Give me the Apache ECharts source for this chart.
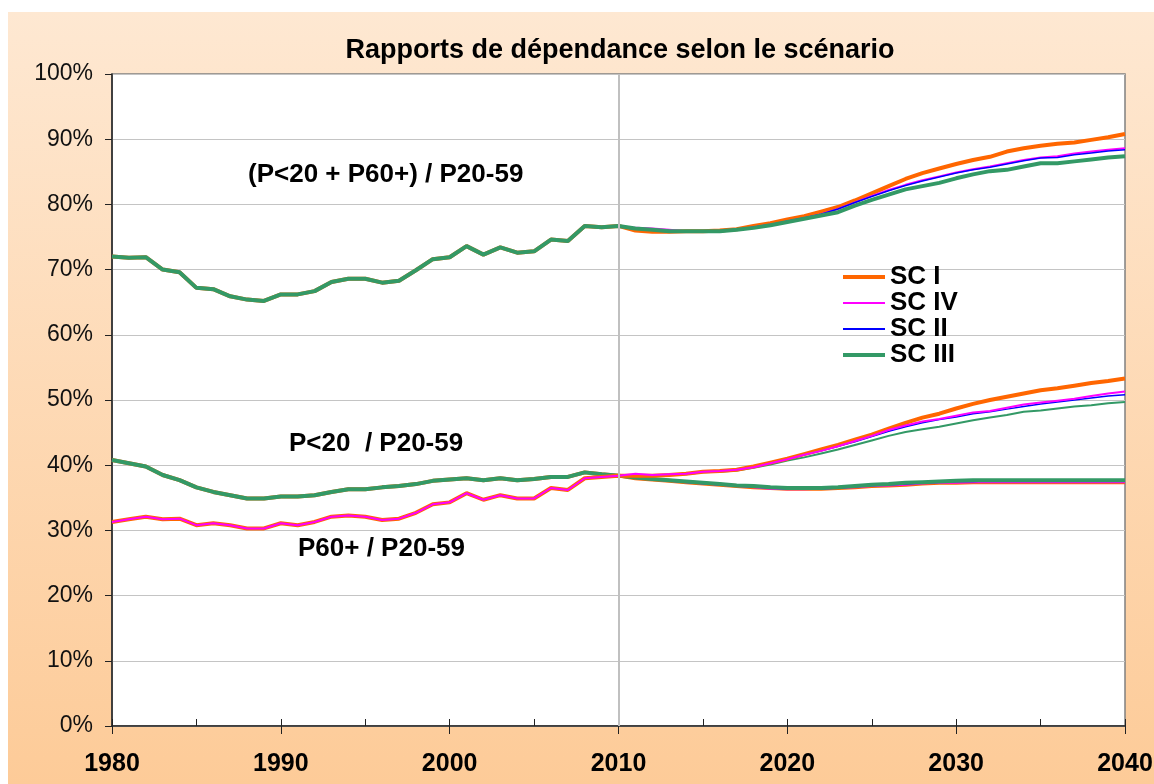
<!DOCTYPE html>
<html><head><meta charset="utf-8">
<script src="https://cdn.jsdelivr.net/npm/echarts@6/dist/echarts.min.js"></script>
<style>html,body{margin:0;padding:0;background:#fff}#c{width:1154px;height:784px}</style>
</head><body><div id="c"></div><script>
const FONT = '"Liberation Sans", Arial, sans-serif';
const firstYear = 1980, lastYear = 2040, projectionStart = 2010;
const scenarioNames = ['SC I', 'SC IV', 'SC II', 'SC III'];
const titleText = 'Rapports de dépendance selon le scénario';
const groupLabels = ['(P<20 + P60+) / P20-59', 'P<20  / P20-59', 'P60+ / P20-59'];

// Historical values 1980..2010 (common to all scenarios)
const histTotal = [72.0,71.8,71.9,70.0,69.6,67.2,67.0,65.9,65.4,65.2,66.2,66.2,66.7,68.1,68.6,68.6,68.0,68.3,69.9,71.6,71.9,73.6,72.3,73.4,72.6,72.8,74.6,74.4,76.7,76.5,76.7];
const histYoung = [40.8,40.3,39.8,38.5,37.7,36.6,35.9,35.4,34.9,34.9,35.2,35.2,35.4,35.9,36.3,36.3,36.6,36.8,37.1,37.6,37.8,38.0,37.7,38.0,37.7,37.9,38.2,38.2,38.9,38.6,38.4];
const histOld   = [31.3,31.7,32.1,31.7,31.8,30.8,31.1,30.8,30.3,30.3,31.1,30.8,31.3,32.1,32.3,32.1,31.6,31.8,32.7,34.0,34.3,35.7,34.7,35.4,34.9,34.9,36.5,36.2,38.0,38.2,38.4];

// Projections 2011..2040
const projTotalI   = [76.0,75.8,75.8,75.9,75.9,76.0,76.2,76.7,77.1,77.7,78.2,78.9,79.6,80.6,81.7,82.8,83.9,84.8,85.5,86.2,86.8,87.3,88.1,88.6,89.0,89.3,89.5,89.9,90.3,90.8];
const projTotalIV  = [76.4,76.3,76.1,75.9,75.9,75.9,76.1,76.5,76.9,77.4,77.9,78.5,79.3,80.3,81.3,82.2,83.0,83.7,84.3,84.9,85.4,85.8,86.3,86.8,87.2,87.4,87.8,88.1,88.4,88.6];
const projTotalII  = [76.2,76.2,76.0,75.9,75.9,75.9,76.1,76.5,76.9,77.4,77.9,78.5,79.3,80.3,81.2,82.1,82.9,83.6,84.2,84.8,85.3,85.7,86.2,86.7,87.1,87.2,87.6,87.9,88.2,88.4];
const projTotalIII = [76.3,76.1,75.9,75.9,75.9,75.9,76.1,76.4,76.8,77.3,77.8,78.3,78.8,79.8,80.7,81.5,82.3,82.8,83.3,84.0,84.6,85.1,85.3,85.8,86.3,86.3,86.6,86.9,87.2,87.4];

const projYoungI   = [38.0,37.8,37.6,37.4,37.2,37.0,36.8,36.6,36.5,36.4,36.4,36.4,36.5,36.6,36.8,36.9,37.0,37.2,37.3,37.3,37.4,37.4,37.4,37.4,37.4,37.4,37.4,37.4,37.4,37.4];
const projYoungIV  = [38.1,37.8,37.6,37.4,37.2,37.0,36.8,36.6,36.4,36.3,36.3,36.4,36.5,36.6,36.8,36.9,37.0,37.2,37.3,37.3,37.4,37.4,37.4,37.4,37.4,37.4,37.4,37.4,37.4,37.4];
const projYoungII  = [38.0,37.8,37.6,37.4,37.2,37.0,36.8,36.7,36.5,36.4,36.4,36.4,36.5,36.7,36.9,37.0,37.1,37.3,37.4,37.5,37.5,37.6,37.6,37.6,37.6,37.6,37.6,37.6,37.6,37.6];
const projYoungIII = [38.1,37.9,37.7,37.5,37.3,37.1,36.9,36.8,36.6,36.5,36.5,36.5,36.6,36.8,37.0,37.1,37.3,37.4,37.5,37.6,37.7,37.7,37.7,37.7,37.7,37.7,37.7,37.7,37.7,37.7];

const projOldI   = [38.4,38.4,38.5,38.7,39.0,39.1,39.3,39.8,40.4,41.0,41.7,42.4,43.1,43.9,44.7,45.6,46.5,47.3,47.9,48.7,49.4,50.0,50.5,51.0,51.5,51.8,52.2,52.6,52.9,53.3];
const projOldIV  = [38.7,38.5,38.6,38.7,39.0,39.1,39.3,39.7,40.3,40.9,41.6,42.2,42.9,43.7,44.5,45.4,46.1,46.7,47.1,47.6,48.1,48.3,48.8,49.3,49.6,49.9,50.2,50.6,51.0,51.3];
const projOldII  = [38.3,38.4,38.6,38.7,39.0,39.1,39.3,39.7,40.3,40.9,41.6,42.2,42.9,43.6,44.4,45.2,45.9,46.5,47.0,47.4,47.9,48.2,48.6,49.0,49.4,49.7,50.0,50.3,50.6,50.8];
const projOldIII = [38.4,38.4,38.5,38.6,38.9,39.0,39.2,39.6,40.1,40.7,41.2,41.8,42.4,43.1,43.8,44.5,45.1,45.5,45.9,46.4,46.9,47.3,47.7,48.2,48.4,48.7,49.0,49.2,49.5,49.7];

const colors = {'SC I': '#FF6600', 'SC IV': '#FF00FF', 'SC II': '#0000FF', 'SC III': '#339966'};
const legendWidths = {'SC I': 4, 'SC IV': 2, 'SC II': 2, 'SC III': 4};

function pairs(hist, proj) {
  const all = hist.concat(proj);
  return all.map((v, i) => [firstYear + i, v]);
}
function mk(name, hist, proj, width) {
  return {
    name: name, type: 'line', data: pairs(hist, proj), symbol: 'none', showSymbol: false,
    lineStyle: {color: colors[name], width: width}, itemStyle: {color: colors[name]},
    silent: true, animation: false, xAxisIndex: 0
  };
}
const series = [
  // total group
  mk('SC I', histTotal, projTotalI, 4),
  mk('SC IV', histTotal, projTotalIV, 2),
  mk('SC II', histTotal, projTotalII, 1.5),
  mk('SC III', histTotal, projTotalIII, 4),
  // P<20 group
  mk('SC I', histYoung, projYoungI, 4),
  mk('SC IV', histYoung, projYoungIV, 2),
  mk('SC II', histYoung, projYoungII, 1.5),
  mk('SC III', histYoung, projYoungIII, 4),
  // P60+ group
  mk('SC III', histOld, projOldIII, 2),
  mk('SC II', histOld, projOldII, 1.5),
  mk('SC I', histOld, projOldI, 4),
  mk('SC IV', histOld, projOldIV, 2)
];
series[0].markLine = {
  silent: true, symbol: 'none', label: {show: false},
  lineStyle: {color: '#C0C0C0', width: 2, type: 'solid'},
  data: [{xAxis: projectionStart}]
};

const chart = echarts.init(document.getElementById('c'), null, {renderer: 'canvas'});
chart.setOption({
  backgroundColor: '#ffffff',
  animation: false,
  textStyle: {fontFamily: FONT},
  title: {
    text: titleText, left: 615, top: 32, textAlign: 'center',
    textStyle: {fontFamily: FONT, fontSize: 27, fontWeight: 'bold', color: '#000'}
  },
  grid: {
    left: 112, top: 74, right: 29, bottom: 58, show: true, containLabel: false,
    outerBoundsMode: 'none',
    backgroundColor: '#ffffff', borderColor: '#808080', borderWidth: 1.5
  },
  legend: {
    data: scenarioNames.map(n => ({name: n, lineStyle: {width: legendWidths[n], color: colors[n]}})),
    orient: 'vertical', left: 836, top: 259,
    itemWidth: 42, itemHeight: 12, itemGap: 0,
    itemStyle: {opacity: 0},
    textStyle: {fontFamily: FONT, fontSize: 26, fontWeight: 'bold', color: '#000', lineHeight: 25},
    selectedMode: false
  },
  xAxis: [{
    type: 'value', min: firstYear, max: lastYear, interval: 10,
    axisLine: {show: true, onZero: false, lineStyle: {color: '#222', width: 1.5}},
    axisTick: {show: true, length: 8, lineStyle: {color: '#222'}},
    axisLabel: {fontFamily: FONT, fontSize: 25, fontWeight: 'bold', color: '#000', margin: 26,
      formatter: v => String(v)},
    splitLine: {show: false}
  }, {
    type: 'value', min: firstYear, max: lastYear, interval: 5, position: 'bottom',
    axisLine: {show: false}, axisLabel: {show: false},
    axisTick: {show: true, inside: true, length: 7, lineStyle: {color: '#222'}},
    splitLine: {show: false}
  }],
  yAxis: {
    type: 'value', min: 0, max: 100, interval: 10,
    axisLine: {show: true, lineStyle: {color: '#222', width: 1.5}},
    axisTick: {show: true, length: 7, lineStyle: {color: '#222'}},
    axisLabel: {fontFamily: FONT, fontSize: 23, color: '#111', margin: 19, formatter: '{value}%'},
    splitLine: {show: true, lineStyle: {color: '#C4C4C4', width: 1.2}}
  },
  graphic: [
    {type: 'rect', z: -100, silent: true, shape: {x: 8, y: 12, width: 1146, height: 772},
     style: {fill: new echarts.graphic.LinearGradient(0, 0, 0, 1, [
       {offset: 0, color: '#FEE8D2'}, {offset: 1, color: '#FDCB98'}])}},
    {type: 'text', left: 248, top: 162, z: 100, silent: true,
     style: {text: groupLabels[0], font: 'bold 26px ' + FONT, fill: '#000'}},
    {type: 'text', left: 289, top: 431, z: 100, silent: true,
     style: {text: groupLabels[1], font: 'bold 26px ' + FONT, fill: '#000'}},
    {type: 'text', left: 298, top: 536, z: 100, silent: true,
     style: {text: groupLabels[2], font: 'bold 26px ' + FONT, fill: '#000'}}
  ],
  series: series
});
</script></body></html>
